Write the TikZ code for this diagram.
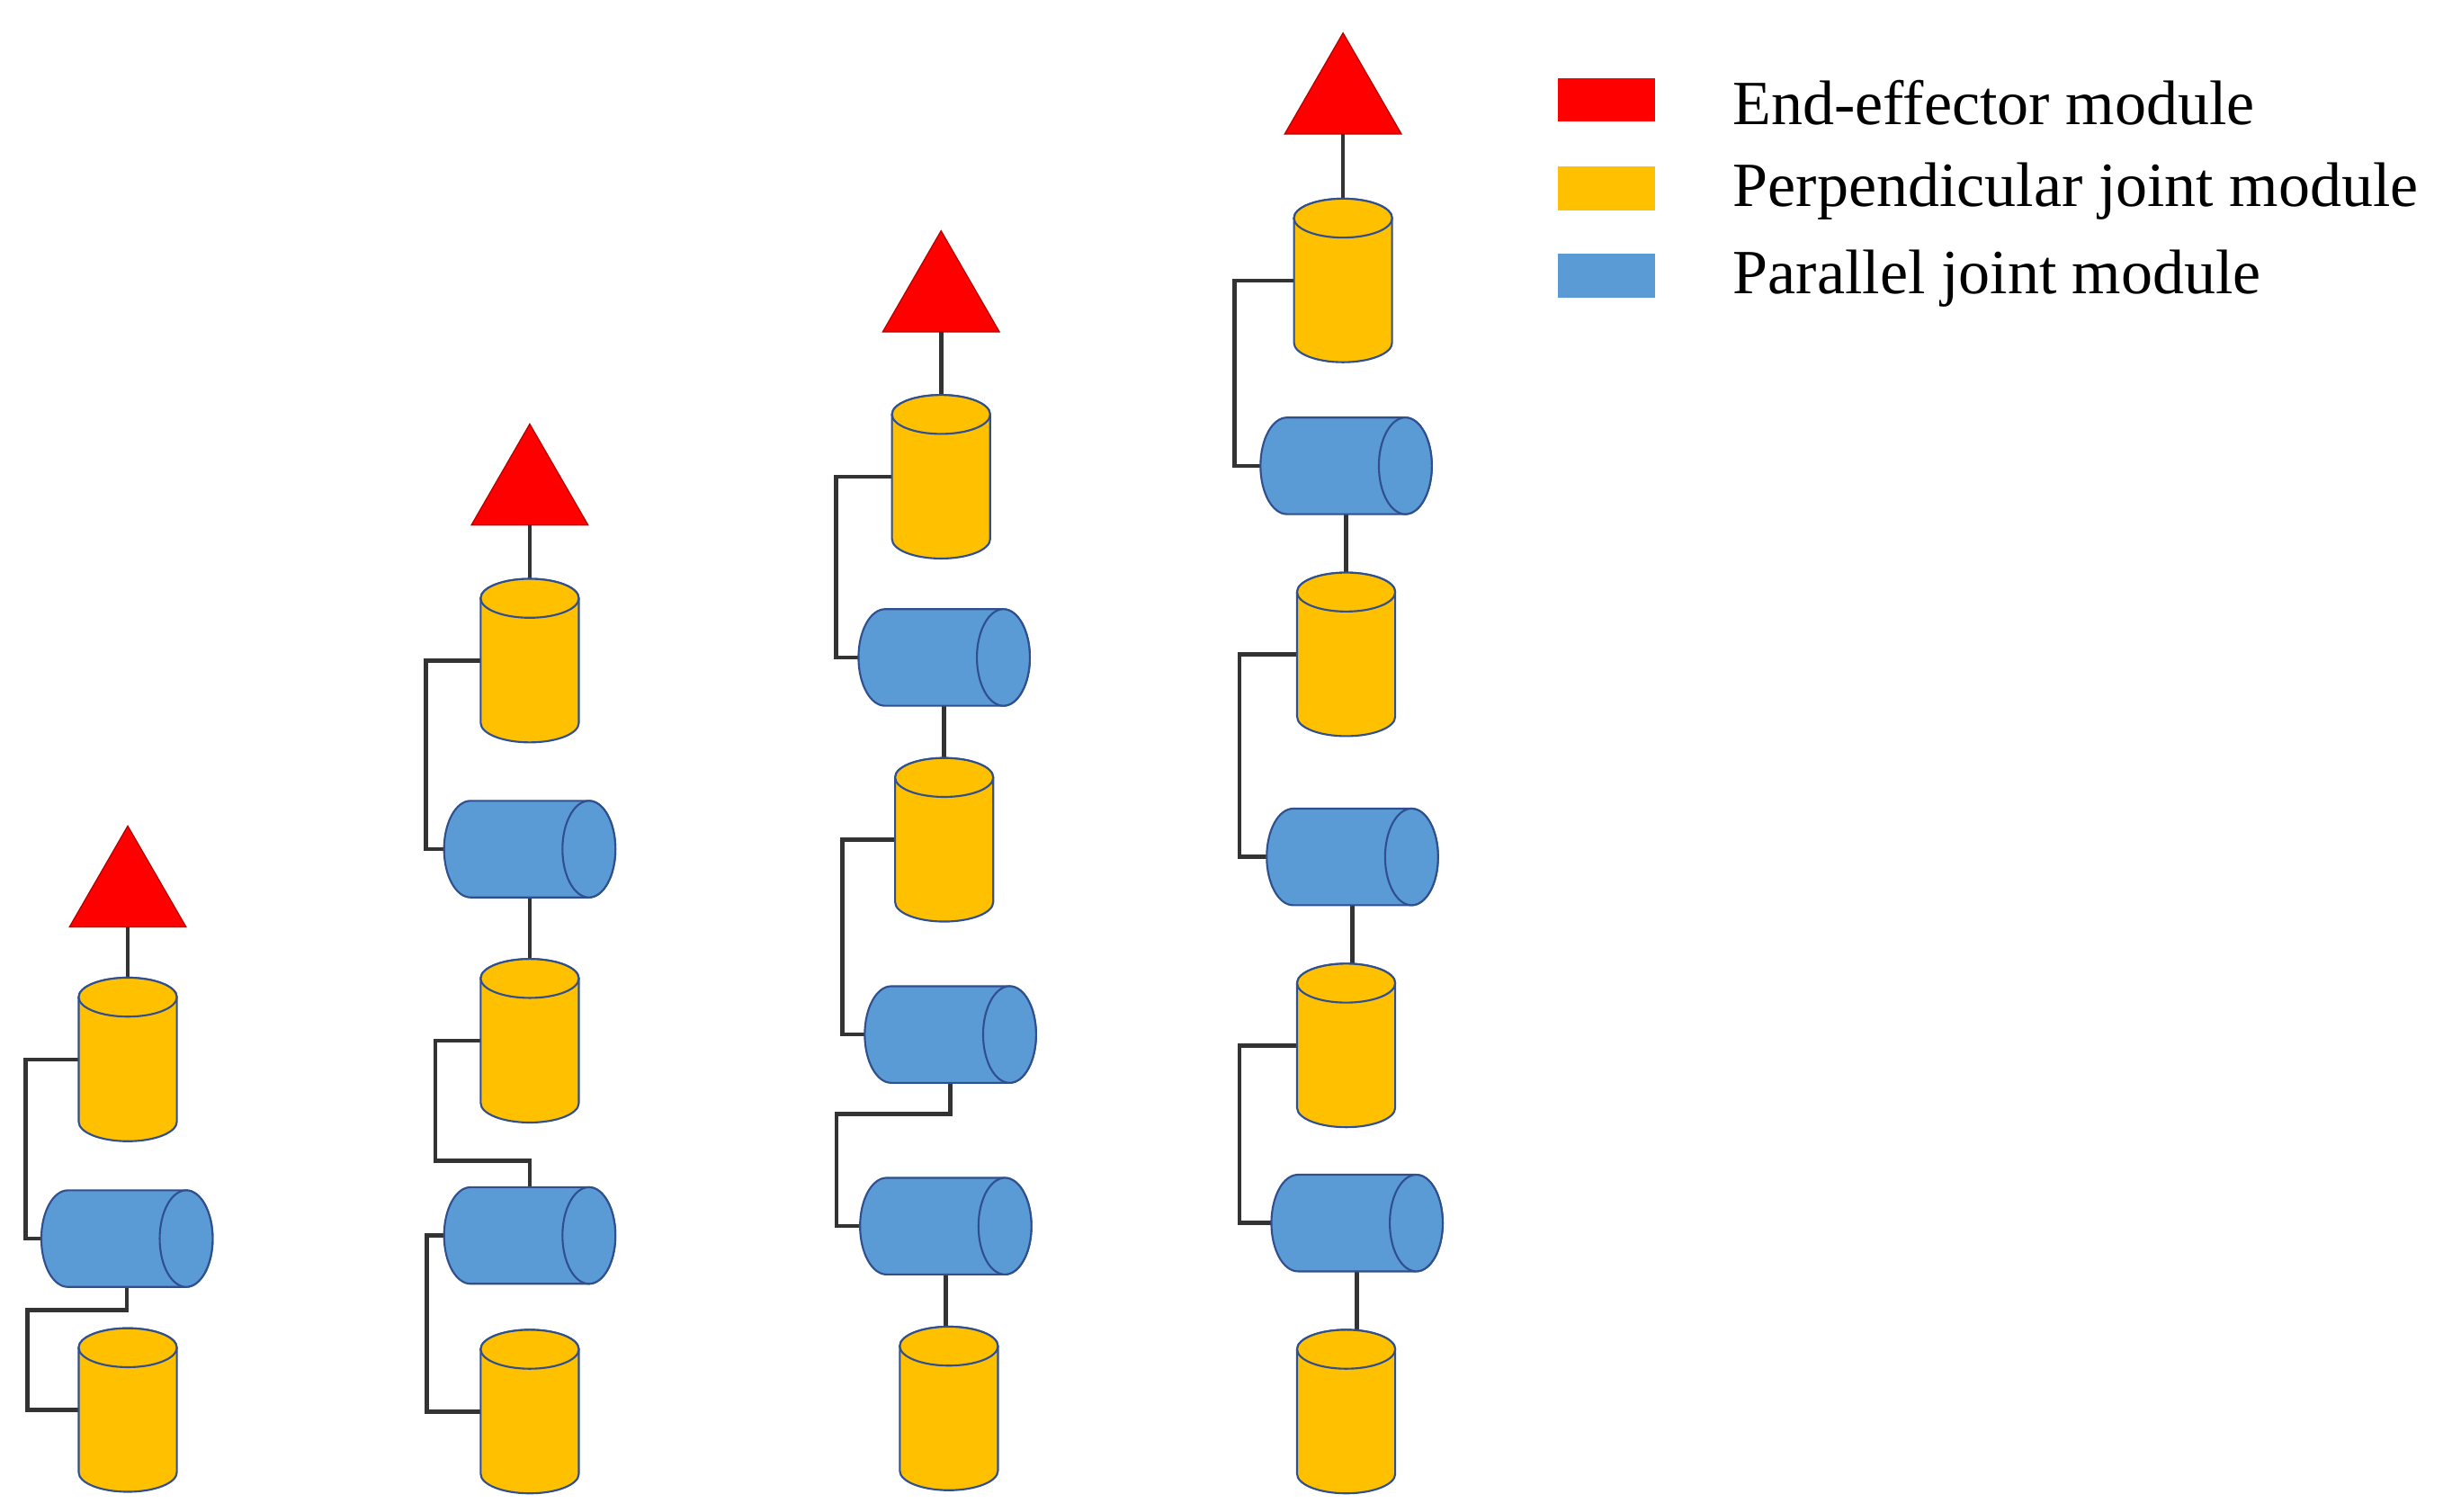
\documentclass[tikz,border=0pt]{standalone}
\usepackage{fontspec}
\setmainfont{Liberation Serif}
\usetikzlibrary{shapes.geometric}
\definecolor{yel}{HTML}{FFC000}
\definecolor{blu}{HTML}{5B9BD5}
\definecolor{edge}{HTML}{2F4F8F}
\definecolor{conn}{HTML}{333333}
\tikzset{
  ycyl/.style={rectangle, minimum width=1.26cm, minimum height=2.1cm, inner sep=0pt, outer sep=0pt},
  bcyl/.style={rectangle, minimum width=2.2cm, minimum height=1.24cm, inner sep=0pt, outer sep=0pt},
  yshape/.style={fill=yel, draw=edge, line width=0.7pt},
  bshape/.style={fill=blu, draw=edge, line width=0.7pt},
  eff/.style={regular polygon, regular polygon sides=3, minimum size=1.73cm, fill=red, draw=red!70!black, line width=0.4pt, inner sep=0pt, outer sep=0pt, anchor=south},
  con/.style={draw=conn, line width=1.5pt},
  leg/.style={rectangle, minimum width=1.24cm, minimum height=0.56cm, inner sep=0pt},
  lt/.style={anchor=west, font=\fontsize{23}{27}\selectfont, inner sep=0pt}
}
\newcommand\drawY[1]{%
  \path[yshape] ([yshift=-0.25cm]#1.north west) -- ([yshift=0.25cm]#1.south west)
    arc[start angle=180,end angle=360,x radius=0.63cm,y radius=0.25cm]
    -- ([yshift=-0.25cm]#1.north east)
    arc[start angle=0,end angle=180,x radius=0.63cm,y radius=0.25cm] -- cycle;
  \path[yshape] ([yshift=-0.25cm]#1.north) ellipse[x radius=0.63cm,y radius=0.25cm];}
\newcommand\drawB[1]{%
  \path[bshape] ([xshift=0.34cm]#1.north west) -- ([xshift=-0.34cm]#1.north east)
    arc[start angle=90,end angle=-90,x radius=0.34cm,y radius=0.62cm]
    -- ([xshift=0.34cm]#1.south west)
    arc[start angle=270,end angle=90,x radius=0.34cm,y radius=0.62cm] -- cycle;
  \path[bshape] ([xshift=-0.34cm]#1.east) ellipse[x radius=0.34cm,y radius=0.62cm];}
\begin{document}
\begin{tikzpicture}[x=0.02cm,y=-0.02cm]
\useasboundingbox (0,0) rectangle (1568,970);
% column 1
\node[eff] (t1) at (82,595) {};
\node[ycyl] (y11) at (82,680) {};
\node[bcyl] (b11) at (81.5,795) {};
\node[ycyl] (y12) at (82,905) {};
\draw[con] (t1.south) -- (y11.north);
\draw[con] (y11.west) -- ++(-34,0) |- (b11.west);
\draw[con] (b11.south) -- ++(0,15) -- ++(-64,0) |- (y12.west);
% column 2
\node[eff] (t2) at (340,337) {};
\node[ycyl] (y21) at (340,424) {};
\node[bcyl] (b21) at (340,545) {};
\node[ycyl] (y22) at (340,668) {};
\node[bcyl] (b22) at (340,793) {};
\node[ycyl] (y23) at (340,906) {};
\draw[con] (t2.south) -- (y21.north);
\draw[con] (y21.west) -- ++(-35,0) |- (b21.west);
\draw[con] (b21.south) -- (b21.south |- y22.north);
\draw[con] (y22.west) -- ++(-29,0) -- ++(0,77) -| (b22.north);
\draw[con] (b22.west) -- ++(-11,0) |- (y23.west);
% column 3
\node[eff] (t3) at (604,213) {};
\node[ycyl] (y31) at (604,306) {};
\node[bcyl] (b31) at (606,422) {};
\node[ycyl] (y32) at (606,539) {};
\node[bcyl] (b32) at (610,664) {};
\node[bcyl] (b33) at (607,787) {};
\node[ycyl] (y33) at (609,904) {};
\draw[con] (t3.south) -- (y31.north);
\draw[con] (y31.west) -- ++(-36,0) |- (b31.west);
\draw[con] (b31.south) -- (b31.south |- y32.north);
\draw[con] (y32.west) -- ++(-34,0) |- (b32.west);
\draw[con] (b32.south) -- ++(0,20) -- ++(-73,0) |- (b33.west);
\draw[con] (b33.south) -- (b33.south |- y33.north);
% column 4
\node[eff] (t4) at (862,86) {};
\node[ycyl] (y41) at (862,180) {};
\node[bcyl] (b41) at (864,299) {};
\node[ycyl] (y42) at (864,420) {};
\node[bcyl] (b42) at (868,550) {};
\node[ycyl] (y43) at (864,671) {};
\node[bcyl] (b43) at (871,785) {};
\node[ycyl] (y44) at (864,906) {};
\draw[con] (t4.south) -- (y41.north);
\draw[con] (y41.west) -- ++(-38,0) |- (b41.west);
\draw[con] (b41.south) -- (b41.south |- y42.north);
\draw[con] (y42.west) -- ++(-37,0) |- (b42.west);
\draw[con] (b42.south) -- (b42.south |- y43.north);
\draw[con] (y43.west) -- ++(-37,0) |- (b43.west);
\draw[con] (b43.south) -- (b43.south |- y44.north);
% cylinder bodies
\foreach \n in {y11,y12,y21,y22,y23,y31,y32,y33,y41,y42,y43,y44}{\drawY{\n}}
\foreach \n in {b11,b21,b22,b31,b32,b33,b41,b42,b43}{\drawB{\n}}
% legend
\node[leg, fill=red] (l1) at (1031,64) {};
\node[leg, fill=yel] (l2) at (1031,121) {};
\node[leg, fill=blu] (l3) at (1031,177) {};
\node[lt] (lt1) at (1112,66) {End-effector module};
\node[lt] (lt2) at (1112,123) {Perpendicular joint module};
\node[lt] (lt3) at (1112,179) {Parallel joint module};
\end{tikzpicture}
\end{document}
